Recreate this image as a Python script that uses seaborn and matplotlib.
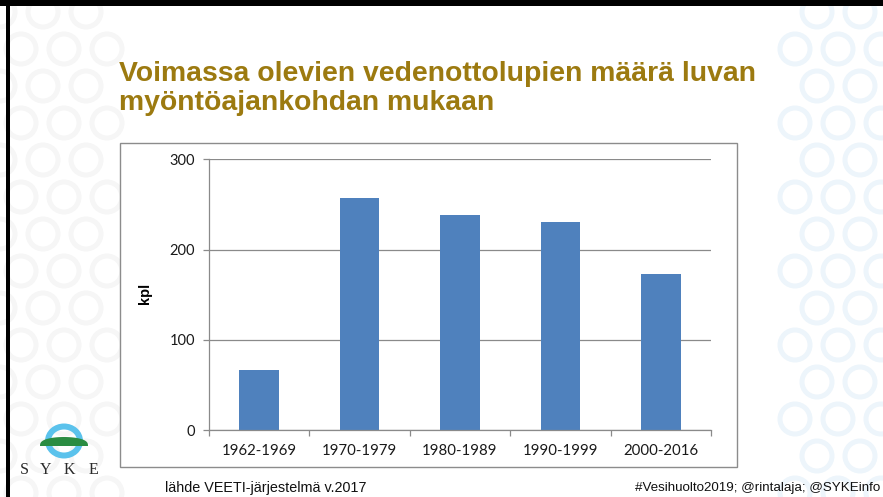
import numpy as np
import pandas as pd
import matplotlib
matplotlib.use("Agg")
import matplotlib.pyplot as plt
import seaborn as sns
from matplotlib.patches import Rectangle, Ellipse, Polygon

# ---- data ----
categories = ["1962-1969", "1970-1979", "1980-1989", "1990-1999", "2000-2016"]
values = [66, 257, 238, 231, 173]
y_ticks = [0, 100, 200, 300]
title_lines = ["Voimassa olevien vedenottolupien määrä luvan",
               "myöntöajankohdan mukaan"]
y_label = "kpl"
source_text = "lähde VEETI-järjestelmä v.2017"
hashtag_text = "#Vesihuolto2019; @rintalaja; @SYKEinfo"
logo_letters = ["S", "Y", "K", "E"]

W, H = 883, 497
sns.set_style("white")
plt.rcParams["font.family"] = ["Lato", "DejaVu Sans"]

fig = plt.figure(figsize=(W / 100, H / 100), dpi=100)
fig.patch.set_facecolor("white")


def fx(x):
    return x / W


def fy(y):
    return 1 - y / H


# ---- faint background ring pattern ----
for row in range(-1, 15):
    cy = 12 + row * 37
    off = 21 if row % 2 else 0
    for col in range(-1, 24):
        cx = off + col * 43
        if cx < 118:
            col_c = "#F6F6F6"
        elif cx > 775:
            col_c = "#EDF5FB"
        else:
            continue
        fig.add_artist(Ellipse((fx(cx), fy(cy)), 2 * 15 / W, 2 * 15 / H,
                               transform=fig.transFigure, fill=False,
                               ec=col_c, lw=3.6, zorder=0))

# ---- slide borders ----
fig.add_artist(Rectangle((0, fy(6)), 1, 6 / H, transform=fig.transFigure,
                         fc="black", ec="none", zorder=1))
fig.add_artist(Rectangle((fx(6), 0), 3.5 / W, 1, transform=fig.transFigure,
                         fc="black", ec="none", zorder=1))

# ---- chart frame ----
fig.add_artist(Rectangle((fx(120), fy(467)), (737 - 120) / W, (467 - 143) / H,
                         transform=fig.transFigure, fc="white", ec="#8C8C8C",
                         lw=1.0, zorder=1))

# ---- title ----
title_color = "#9C7A10"
t1 = fig.text(fx(119), fy(81), title_lines[0], family="Liberation Sans",
              weight="bold", size=19, color=title_color, va="baseline", zorder=3)
t2 = fig.text(fx(119), fy(110), title_lines[1], family="Liberation Sans",
              weight="bold", size=19, color=title_color, va="baseline", zorder=3)
fig.canvas.draw()
r = fig.canvas.get_renderer()
wpx = t1.get_window_extent(r).width
new_size = 19 * 638 / wpx
t1.set_fontsize(new_size)
t2.set_fontsize(new_size)

# ---- bar chart ----
df = pd.DataFrame({"period": categories, "count": values})
ax = fig.add_axes([fx(209), fy(430), (711 - 209) / W, (430 - 159.3) / H])
ax.set_zorder(2)
ax.patch.set_alpha(0)
sns.barplot(data=df, x="period", y="count", color="#4F81BD", saturation=1,
            width=0.395, linewidth=0, ax=ax)
ax.set_xlim(-0.5, 4.5)
ax.set_ylim(0, 300)
ax.set_yticks(y_ticks)
ax.yaxis.grid(True, color="#8A8A8A", lw=0.9)
ax.xaxis.grid(False)
ax.set_axisbelow(True)
for s in ["top", "right"]:
    ax.spines[s].set_visible(False)
for s in ["left", "bottom"]:
    ax.spines[s].set_color("#8A8A8A")
    ax.spines[s].set_linewidth(0.9)

ax.tick_params(axis="y", left=True, length=4, width=0.9, color="#8A8A8A",
               labelsize=10.5, pad=6, labelcolor="#1A1A1A")
ax.set_xticks(range(len(categories)))
ax.set_xticklabels(categories)
ax.tick_params(axis="x", which="major", bottom=True, length=0, pad=10,
               labelsize=10.8, labelcolor="#1A1A1A")
ax.set_xticks(np.arange(-0.5, len(categories), 1), minor=True)
ax.tick_params(axis="x", which="minor", bottom=True, length=4, width=0.9,
               color="#8A8A8A", direction="out")
ax.set_xlabel("")
ax.set_ylabel(y_label, family="Liberation Sans", weight="bold", size=10.5,
              color="black")
ax.yaxis.set_label_coords((152 - 209) / 502, (430 - 293) / 270.7)

# ---- logo ----
fig.add_artist(Ellipse((fx(64), fy(441)), 32 / W, 29 / H,
                       transform=fig.transFigure, fill=False,
                       ec="#5BC2EC", lw=4.3, zorder=3))
tt = np.linspace(0, np.pi, 60)
hx = 64 + 24 * np.cos(tt)
hy = 446 - 9 * np.sin(tt) ** 0.7
pts = [(fx(a), fy(b)) for a, b in zip(hx, hy)]
fig.add_artist(Polygon(pts, closed=True, transform=fig.transFigure,
                       fc="#2A8C42", ec="none", zorder=4))
for letter, cx in zip(logo_letters, [24, 46, 69, 93]):
    fig.text(fx(cx), fy(470), letter, family="Liberation Serif", size=11.5,
             color="#2B2B2B", ha="center", va="center", zorder=3)

# ---- footers ----
fig.text(fx(165), fy(488), source_text, family="Liberation Sans", size=10.4,
         color="#111111", va="center", zorder=3)
fig.text(fx(880), fy(488), hashtag_text, family="Liberation Sans", size=9.6,
         color="#111111", va="center", ha="right", zorder=3)

fig.savefig("out.png", dpi=100)
